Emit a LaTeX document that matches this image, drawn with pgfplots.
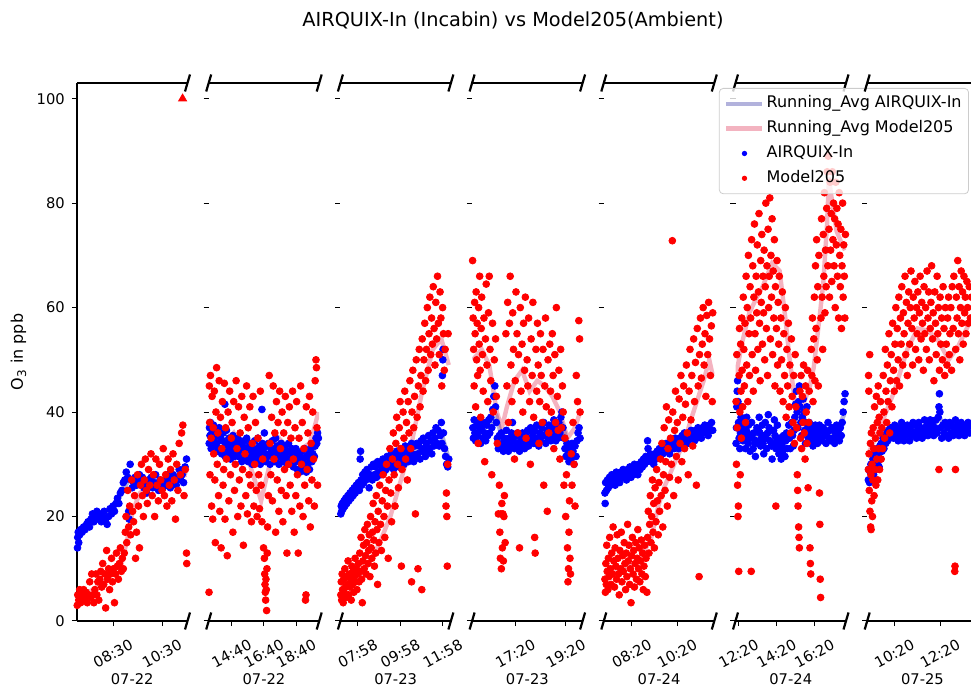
\documentclass[border=0pt]{standalone}
\usepackage{pgfplots}
\pgfplotsset{compat=1.18}
\usepackage{fontspec}
\setmainfont{DejaVu Sans}
\definecolor{avgblue}{RGB}{0,0,139}
\definecolor{avgred}{RGB}{220,20,60}
\newcommand\tickfont{\fontsize{7.35}{8.8}\selectfont}
\newcommand\labfont{\fontsize{8}{9.6}\selectfont}
\pgfplotsset{
  panel/.style={
    scale only axis, width=55.25pt, height=269pt, anchor=south west,
    ymin=0, ymax=103, ytick={0,20,40,60,80,100},
    axis x line*=box, axis y line*=left,
    xtick pos=left, ytick pos=left,
    tick align=outside, major tick length=2.6pt,
    every tick/.style={black, line width=0.5pt},
    axis line style={black, line width=0.6pt, -},
    tick label style={font=\tickfont},
    /pgf/number format/assume math mode=true,
    xticklabel style={yshift=-13.75pt, rotate=28, anchor=center},
    every axis x label/.style={at={(axis description cs:0.5,0)}, anchor=center, yshift=-29pt, font=\tickfont},
    every axis y label/.style={at={(axis description cs:0,0.5)}, xshift=-29.25pt, rotate=90, anchor=center, font=\labfont},
  },
  rbreak/.style={extra description/.append code={
    \draw[black, line width=1.1pt] ([xshift=-1.25pt,yshift=-4.25pt]axis description cs:1,0) -- ([xshift=1.25pt,yshift=4.25pt]axis description cs:1,0);
    \draw[black, line width=1.1pt] ([xshift=-1.25pt,yshift=-4.25pt]axis description cs:1,1) -- ([xshift=1.25pt,yshift=4.25pt]axis description cs:1,1);}},
  lbreak/.style={extra description/.append code={
    \draw[black, line width=1.1pt] ([xshift=-1.25pt,yshift=-4.25pt]axis description cs:0,0) -- ([xshift=1.25pt,yshift=4.25pt]axis description cs:0,0);
    \draw[black, line width=1.1pt] ([xshift=-1.25pt,yshift=-4.25pt]axis description cs:0,1) -- ([xshift=1.25pt,yshift=4.25pt]axis description cs:0,1);}},
  nolefty/.style={yticklabels={}, y axis line style={draw=none}},
  bdots/.style={only marks, mark=*, mark size=1.7pt, color=blue, forget plot},
  rdots/.style={only marks, mark=*, mark size=1.7pt, color=red, forget plot},
  bavg/.style={no marks, line width=2.2pt, draw=avgblue, draw opacity=0.3, forget plot},
  ravg/.style={no marks, line width=2.2pt, draw=avgred, draw opacity=0.32, forget plot},
}
\begin{document}
\begin{tikzpicture}
\useasboundingbox (0,0) rectangle (485.5pt,344.5pt);
\node[font=\fontsize{9.66}{11.6}\selectfont] at (256.5pt,334.5pt) {AIRQUIX-In (Incabin) vs Model205(Ambient)};
% ---------------- Panel 1
\begin{axis}[panel, rbreak, at={(38.5pt,34pt)}, xmin=7.03, xmax=11.54,
  xtick={8.5,10.5}, xticklabels={08:30,10:30}, xlabel={07-22}, ylabel={O\textsubscript{3} in ppb}]
\addplot[bdots] coordinates {(7.05,14)(7.06,16)(7.08,17)(7.1,15)(7.14,16.5)(7.18,17.5)(7.24,17)(7.3,18)(7.36,17.5)(7.42,18.5)(7.48,19)(7.54,18)(7.6,19.5)(7.66,20.5)(7.72,19)(7.78,20)(7.84,21)(7.9,19.5)(7.96,20.5)(8.02,19)(8.08,20)(8.14,21)(8.2,19.5)(8.26,18.5)(8.32,20)(8.38,21.5)(8.44,20.5)(8.5,22)(8.56,21)(8.62,22.5)(8.68,23.5)(8.74,22.5)(8.8,24.5)(8.86,25)(8.92,26.5)(8.98,27)(9.04,28.5)(9.1,27.5)(9.14,21)(9.16,19.5)(9.2,30)(9.24,27)(9.28,25.5)(9.34,26.5)(9.4,27.5)(9.46,26)(9.52,27)(9.58,28)(9.64,26.5)(9.7,27.5)(9.76,25.5)(9.82,26.5)(9.88,24.5)(9.94,27)(10.0,26)(10.06,27.5)(10.12,25.5)(10.18,26.5)(10.24,28)(10.3,26)(10.36,25)(10.42,27)(10.48,26)(10.54,25.5)(10.6,27)(10.66,26)(10.72,28)(10.78,27)(10.84,25.5)(10.9,26.5)(10.96,28)(11.02,27)(11.08,26)(11.14,27.5)(11.2,29)(11.26,27)(11.32,28)(11.38,26.5)(11.44,29.5)(11.5,31)};
\addplot[rdots] coordinates {(7.04,3)(7.06,5)(7.1,4)(7.14,6)(7.18,3.5)(7.22,5)(7.27,4.5)(7.3,6)(7.35,4)(7.4,5.5)(7.45,3.5)(7.5,5)(7.55,7.5)(7.6,4.5)(7.63,9)(7.68,5)(7.72,3.5)(7.76,6)(7.8,9)(7.84,5)(7.88,7.5)(7.92,4)(7.96,8)(8.0,9.5)(8.04,6.5)(8.08,11)(8.12,7)(8.16,9)(8.2,2.5)(8.24,13.5)(8.28,8)(8.32,10)(8.36,6)(8.4,9)(8.44,12)(8.48,7.5)(8.52,10)(8.56,3.5)(8.6,9)(8.64,13)(8.68,10.5)(8.72,8)(8.76,11)(8.8,14)(8.84,9.5)(8.88,12)(8.92,10)(8.96,13)(9.0,17)(9.03,20)(9.06,15)(9.1,25)(9.14,18)(9.18,22)(9.22,16.5)(9.26,27)(9.3,21)(9.34,19)(9.38,24)(9.42,12)(9.46,17)(9.5,28)(9.54,22)(9.58,14)(9.62,26)(9.66,30)(9.7,24)(9.74,20)(9.78,27)(9.82,31)(9.86,25)(9.9,22.5)(9.95,29)(10.0,26)(10.05,32)(10.1,24)(10.15,28)(10.2,20)(10.25,31)(10.3,26)(10.35,23)(10.4,30)(10.45,27)(10.5,25)(10.55,33)(10.6,24)(10.65,28)(10.7,22)(10.75,31)(10.8,26)(10.85,29)(10.9,23)(10.95,32)(11.0,27)(11.05,19.5)(11.1,30)(11.15,25)(11.2,34)(11.25,28)(11.3,36)(11.35,37.5)(11.4,24)(11.45,29)(11.5,13)(11.51,11)};
\addplot[bavg] coordinates {(7.05,16)(7.5,18.5)(8.0,20)(8.5,21)(8.9,25)(9.2,27.5)(9.6,27)(10,26.5)(10.5,26.5)(11,27)(11.5,28.5)};
\addplot[ravg] coordinates {(7.05,4.5)(7.5,5.5)(8.0,7)(8.5,9.5)(8.85,11)(9.1,16)(9.3,21)(9.6,24.5)(10,26)(10.5,26.5)(11,27.5)(11.5,28)};
\addplot[only marks, mark=triangle*, mark size=2.3pt, color=red, forget plot] coordinates {(11.34,100)};
\end{axis}
% ---------------- Panel 2
\begin{axis}[panel, nolefty, lbreak, rbreak, at={(104.35pt,34pt)}, xmin=13.25, xmax=20.1,
  xtick={14.667,16.667,18.667}, xticklabels={14:40,16:40,18:40}, xlabel={07-22}]
\addplot[bdots] coordinates {(13.28,34)(13.3,37)(13.33,35.5)(13.36,38)(13.4,33)(13.45,36)(13.5,34.5)(13.55,37.5)(13.6,35)(13.65,33.5)(13.7,36.5)(13.75,34)(13.8,32.5)(13.85,35.5)(13.9,37)(13.95,33)(14.0,35)(14.05,32)(14.1,34.5)(14.15,36)(14.2,33)(14.25,41.5)(14.27,31.5)(14.3,34)(14.35,36.5)(14.4,33.5)(14.45,32)(14.5,35)(14.55,33)(14.6,31)(14.65,34)(14.7,32.5)(14.75,35.5)(14.8,33)(14.85,31.5)(14.9,34.5)(14.95,32)(15.0,33.5)(15.05,35)(15.1,31.5)(15.15,33)(15.2,34.5)(15.25,32)(15.3,30.5)(15.35,33.5)(15.4,32)(15.45,34.5)(15.5,31)(15.55,33)(15.6,35)(15.65,32)(15.7,30.5)(15.75,33.5)(15.8,31.5)(15.85,34)(15.9,32.5)(15.95,30)(16.0,33)(16.05,31)(16.1,34.5)(16.15,32)(16.2,30.5)(16.25,33)(16.3,35)(16.35,31.5)(16.4,33.5)(16.45,30)(16.5,32.5)(16.55,40.5)(16.58,34)(16.6,31)(16.65,33)(16.7,36)(16.75,32)(16.8,30.5)(16.85,33.5)(16.9,31.5)(16.95,34)(17.0,32)(17.05,30)(17.1,33)(17.15,31.5)(17.2,34.5)(17.25,32)(17.3,30.5)(17.35,33)(17.4,35)(17.45,31)(17.5,33.5)(17.55,32)(17.6,30)(17.65,33)(17.7,31.5)(17.75,34)(17.8,32.5)(17.85,30.5)(17.9,33)(17.95,31)(18.0,33.5)(18.05,32)(18.1,30)(18.15,32.5)(18.2,34)(18.25,31)(18.3,32.5)(18.35,30)(18.4,33)(18.45,31.5)(18.5,29.5)(18.55,32)(18.6,30.5)(18.65,33)(18.7,31)(18.75,29)(18.8,32)(18.85,30.5)(18.9,28.5)(18.95,31.5)(19.0,30)(19.05,32.5)(19.1,29.5)(19.15,31)(19.2,33)(19.25,30)(19.3,28.5)(19.35,31.5)(19.4,30)(19.45,32)(19.5,29)(19.55,31)(19.6,33)(19.65,30.5)(19.7,32)(19.75,34)(19.8,31.5)(19.85,33.5)(19.9,35)(19.95,34)(20.0,36)(20.05,35)};
\addplot[rdots] coordinates {(13.27,5.5)(13.29,45)(13.31,38)(13.33,28)(13.36,47)(13.4,35)(13.43,22)(13.46,43)(13.5,19.5)(13.53,37)(13.56,32)(13.6,44)(13.63,27)(13.66,15)(13.7,40)(13.74,48.5)(13.78,30)(13.82,36)(13.86,24)(13.9,46)(13.94,21)(13.98,39)(14.02,14)(14.06,33)(14.1,42)(14.14,26)(14.18,29)(14.22,45.5)(14.26,19.5)(14.3,37)(14.35,31)(14.4,12.5)(14.45,40)(14.5,23)(14.55,44)(14.6,28)(14.65,35)(14.7,38)(14.75,17)(14.8,42)(14.85,25)(14.9,30)(14.95,46)(15.0,33)(15.05,20)(15.1,41)(15.15,27)(15.2,36)(15.25,22)(15.3,43)(15.35,29)(15.4,14.5)(15.45,39)(15.5,32)(15.55,24)(15.6,45)(15.65,20.5)(15.7,37)(15.75,28)(15.8,41)(15.85,26)(15.9,19)(15.95,34)(16.0,43)(16.05,22)(16.1,30)(16.15,38)(16.2,25)(16.25,20)(16.3,35)(16.35,28)(16.4,21.5)(16.45,44)(16.5,26)(16.55,19)(16.6,31)(16.65,14)(16.7,12)(16.72,9)(16.74,7)(16.76,5.5)(16.78,4)(16.8,8)(16.82,6)(16.84,2)(16.86,10)(16.88,13)(16.9,18)(16.95,24)(17.0,47)(17.05,34)(17.1,28)(17.15,39)(17.2,23)(17.25,45)(17.3,31)(17.35,36)(17.4,17)(17.45,42)(17.5,27)(17.55,38)(17.6,21)(17.65,44)(17.7,33)(17.75,25)(17.8,40)(17.85,19)(17.9,36)(17.95,29)(18.0,43)(18.05,24)(18.1,13)(18.15,38)(18.2,30)(18.25,41)(18.3,26)(18.35,35)(18.4,21)(18.45,44)(18.5,31)(18.55,17)(18.6,37)(18.65,24)(18.7,42)(18.75,28)(18.8,13)(18.85,35)(18.9,22)(18.95,45)(19.0,30)(19.05,38)(19.1,20)(19.15,33)(19.2,26)(19.25,4)(19.28,5)(19.3,41)(19.35,29)(19.4,36)(19.45,23)(19.5,43)(19.55,18)(19.6,34)(19.65,27)(19.7,40)(19.75,31)(19.8,22)(19.85,46)(19.9,50)(19.93,48.5)(19.96,37)(20.0,26)};
\addplot[bavg] coordinates {(13.28,35.5)(13.8,35)(14.4,33.5)(15,33)(15.6,32.5)(16.2,32)(16.8,32)(17.4,32.5)(18,32)(18.6,31)(19.2,30.5)(19.7,32)(20.05,35)};
\addplot[ravg] coordinates {(13.28,37)(13.6,35)(14.2,34)(14.8,36)(15.3,33)(15.8,30)(16.2,26)(16.5,23)(16.8,27)(17.2,32)(17.6,35)(18.2,33)(18.6,30)(19.0,33)(19.5,34)(19.8,37)(20.05,40)};
\end{axis}
% ---------------- Panel 3
\begin{axis}[panel, nolefty, lbreak, rbreak, at={(170.2pt,34pt)}, xmin=7.15, xmax=12.35,
  xtick={7.967,9.967,11.967}, xticklabels={07:58,09:58,11:58}, xlabel={07-23}]
\addplot[bdots] coordinates {(7.17,20.5)(7.19,22)(7.21,21)(7.24,22.5)(7.28,21.5)(7.32,23)(7.36,22)(7.4,23.5)(7.45,22.5)(7.5,24)(7.55,23)(7.6,24.5)(7.65,23.5)(7.7,25)(7.75,24)(7.8,25.5)(7.85,24.5)(7.9,26)(7.95,25)(8.0,26.5)(8.04,25)(8.08,31)(8.1,32.5)(8.12,27)(8.16,26)(8.2,28)(8.25,26.5)(8.3,28.5)(8.35,27)(8.4,29)(8.45,27.5)(8.5,25.5)(8.55,28)(8.6,29.5)(8.65,27)(8.7,30)(8.75,28)(8.8,29.5)(8.85,27.5)(8.9,30.5)(8.95,28.5)(9.0,30)(9.05,28)(9.1,29.5)(9.15,31)(9.2,28.5)(9.25,30.5)(9.3,29)(9.35,31.5)(9.4,29.5)(9.45,31)(9.5,30)(9.55,32)(9.6,30.5)(9.65,29)(9.7,31.5)(9.75,30)(9.8,32.5)(9.85,30.5)(9.9,29.5)(9.95,31.5)(10.0,33)(10.05,30.5)(10.1,32)(10.15,30)(10.2,33.5)(10.25,31)(10.3,32.5)(10.35,30.5)(10.4,33)(10.45,31.5)(10.5,34)(10.55,32)(10.6,30.5)(10.65,33.5)(10.7,31.5)(10.75,34)(10.8,32)(10.85,33.5)(10.9,31)(10.95,34.5)(11.0,32.5)(11.05,35)(11.1,33)(11.15,31.5)(11.2,34)(11.25,32.5)(11.3,35.5)(11.35,33)(11.4,34.5)(11.45,32)(11.5,36)(11.55,33.5)(11.6,35)(11.65,37)(11.7,34)(11.75,36.5)(11.8,33.5)(11.85,35.5)(11.9,38)(11.93,34)(11.95,47)(11.97,50)(11.98,52)(12.0,36)(12.05,33)(12.1,31.5)(12.15,30)(12.2,29.5)(12.25,31)};
\addplot[rdots] coordinates {(7.17,5)(7.19,7.5)(7.21,4)(7.23,9)(7.25,6)(7.28,3.5)(7.3,8)(7.33,5.5)(7.36,10)(7.39,6.5)(7.42,4.5)(7.45,8.5)(7.48,7)(7.51,11.5)(7.54,5)(7.57,9)(7.6,6.5)(7.63,8)(7.66,4)(7.69,10.5)(7.72,7)(7.75,9.5)(7.78,5.5)(7.81,8.5)(7.84,12)(7.87,7.5)(7.9,10)(7.93,6)(7.96,9)(8.0,11)(8.03,7.5)(8.06,13)(8.09,9.5)(8.12,16)(8.15,8)(8.18,3.5)(8.21,11.5)(8.24,14.5)(8.27,10)(8.3,17.5)(8.33,12.5)(8.36,9)(8.39,15)(8.42,18.5)(8.45,11)(8.48,13.5)(8.51,16.5)(8.54,8.5)(8.57,20)(8.6,14)(8.63,12)(8.66,17)(8.69,22.5)(8.72,15.5)(8.75,10.5)(8.78,19)(8.81,13)(8.84,24)(8.87,17.5)(8.9,7)(8.93,21)(8.96,15)(9.0,26)(9.04,18.5)(9.08,13.5)(9.12,23)(9.16,28)(9.2,20)(9.24,16)(9.28,25)(9.32,30)(9.36,22)(9.4,12)(9.44,27)(9.48,33)(9.52,24.5)(9.56,19)(9.6,31)(9.64,36)(9.68,28)(9.72,22)(9.76,34)(9.8,39)(9.84,30)(9.88,25.5)(9.92,37)(9.96,42)(10.0,33)(10.02,10.5)(10.05,29)(10.1,40)(10.14,35)(10.18,44)(10.22,31)(10.26,38)(10.3,27)(10.34,42)(10.38,36)(10.42,46)(10.46,33)(10.5,7.5)(10.52,40)(10.56,48)(10.6,37)(10.64,43)(10.68,20.5)(10.72,50)(10.76,39)(10.8,10)(10.82,45)(10.86,52)(10.9,41)(10.94,47)(10.98,6)(11.0,54)(11.04,44)(11.08,50)(11.12,57)(11.16,46)(11.2,52)(11.24,60)(11.28,48)(11.32,55)(11.36,62)(11.4,51)(11.44,58)(11.48,53)(11.52,64)(11.56,56)(11.6,49)(11.64,61)(11.68,54)(11.72,66)(11.76,57)(11.8,51)(11.84,63)(11.88,58)(11.92,45)(11.96,60)(12.0,55)(12.04,48)(12.08,52)(12.12,22)(12.14,24.5)(12.16,20)(12.18,10.5)(12.2,30)(12.22,55)};
\addplot[bavg] coordinates {(7.17,21.5)(7.6,23.5)(8.0,25.5)(8.5,27.5)(9.0,29)(9.5,30.5)(10,31.5)(10.5,32.5)(11,33)(11.5,34.5)(11.9,36)(12.25,31)};
\addplot[ravg] coordinates {(7.17,6)(7.6,7)(8.0,8.5)(8.5,11)(9.0,15)(9.5,20)(10.0,27)(10.5,34)(11.0,44)(11.5,52)(11.9,54)(12.25,49)};
\end{axis}
% ---------------- Panel 4
\begin{axis}[panel, nolefty, lbreak, rbreak, at={(236.05pt,34pt)}, xmin=15.62, xmax=20.0,
  xtick={15.333,17.333,19.333}, xticklabels={15:20,17:20,19:20}, xlabel={07-23}]
\addplot[bdots] coordinates {(15.65,37)(15.67,35)(15.7,38.5)(15.73,36)(15.76,34.5)(15.8,37.5)(15.84,35.5)(15.88,38)(15.92,36.5)(15.96,34)(16.0,37)(16.04,35)(16.08,38)(16.12,36)(16.16,34.5)(16.2,37.5)(16.24,35.5)(16.28,38.5)(16.32,36)(16.36,39)(16.4,37)(16.44,40.5)(16.48,43)(16.52,45)(16.55,41)(16.58,38)(16.62,35)(16.66,33)(16.7,35.5)(16.74,33.5)(16.78,36)(16.82,34)(16.86,32.5)(16.9,35)(16.94,33)(16.98,36.5)(17.02,34)(17.06,32.5)(17.1,35)(17.14,33.5)(17.18,36)(17.22,38)(17.26,34.5)(17.3,33)(17.34,35.5)(17.38,33.5)(17.42,36)(17.46,34)(17.5,32.5)(17.54,35)(17.58,33.5)(17.62,36)(17.66,34.5)(17.7,33)(17.74,35.5)(17.78,34)(17.82,36.5)(17.86,33.5)(17.9,35)(17.94,37)(17.98,34.5)(18.02,36)(18.06,34)(18.1,36.5)(18.14,35)(18.18,37.5)(18.22,35)(18.26,33.5)(18.3,36)(18.34,34.5)(18.38,37)(18.42,35.5)(18.46,38)(18.5,35.5)(18.54,34)(18.58,36.5)(18.62,35)(18.66,37.5)(18.7,36)(18.74,34.5)(18.78,37)(18.82,35.5)(18.86,38.5)(18.9,36)(18.94,34.5)(18.98,37.5)(19.02,35)(19.06,38)(19.1,36)(19.14,39)(19.18,40)(19.22,37)(19.26,35)(19.3,33)(19.34,31.5)(19.38,34)(19.42,32)(19.46,30.5)(19.5,33)(19.54,31)(19.58,34)(19.62,32.5)(19.66,30)(19.7,33.5)(19.74,31.5)(19.78,34.5)(19.82,36)(19.86,37)(19.9,35)};
\addplot[rdots] coordinates {(15.64,69)(15.66,58)(15.68,52)(15.7,45)(15.72,61)(15.74,55)(15.76,41)(15.78,63)(15.8,50)(15.82,57)(15.84,47)(15.86,34)(15.88,60)(15.9,53)(15.92,66)(15.94,48)(15.96,39)(15.98,56)(16.0,62)(16.03,51)(16.06,44)(16.09,58)(16.12,30.5)(16.15,54)(16.18,64.5)(16.21,49)(16.24,42)(16.27,59)(16.3,66)(16.33,52)(16.36,46)(16.4,28)(16.43,57)(16.46,40)(16.5,50)(16.55,54)(16.58,43)(16.62,34)(16.66,20.5)(16.7,26)(16.72,17)(16.74,12)(16.76,20.5)(16.78,10)(16.8,22.5)(16.82,14)(16.84,20.5)(16.86,11.5)(16.88,20)(16.9,24)(16.93,15)(16.96,55)(17.0,45)(17.03,61)(17.06,38)(17.1,57)(17.13,66)(17.16,49)(17.2,42)(17.23,59)(17.26,52)(17.3,31)(17.33,46)(17.36,63)(17.4,55)(17.43,36)(17.46,51)(17.5,14)(17.53,60)(17.56,44)(17.6,53)(17.63,40)(17.66,57)(17.7,48)(17.73,62)(17.76,35)(17.8,50)(17.83,45)(17.86,58)(17.9,42)(17.93,30)(17.96,54)(18.0,47)(18.03,61)(18.06,39)(18.1,16)(18.12,13)(18.15,52)(18.18,44)(18.21,57)(18.24,49)(18.27,34)(18.3,42)(18.33,55)(18.36,47)(18.4,38)(18.43,52)(18.46,26)(18.5,45)(18.53,58)(18.56,41)(18.6,21)(18.63,50)(18.66,36)(18.7,53)(18.73,44)(18.76,40)(18.8,55)(18.83,47)(18.86,33)(18.9,51)(18.93,38)(18.96,60)(19.0,43)(19.03,36.5)(19.06,48)(19.1,31)(19.13,52)(19.16,37)(19.2,45)(19.23,40)(19.26,26)(19.3,35)(19.33,20)(19.36,28)(19.4,14)(19.42,7.5)(19.44,10)(19.46,17)(19.48,23)(19.5,12)(19.52,9)(19.55,32)(19.58,26)(19.62,38)(19.66,30)(19.7,22)(19.75,47)(19.8,42)(19.85,57.5)(19.88,54)(19.9,40)};
\addplot[bavg] coordinates {(15.65,36.5)(16.0,36.5)(16.4,38)(16.6,39)(16.8,35)(17.2,34.5)(17.6,34.5)(18.0,35.5)(18.5,36)(19.0,36.5)(19.2,37.5)(19.5,32.5)(19.9,35)};
\addplot[ravg] coordinates {(15.65,50)(16.0,52)(16.3,49)(16.6,40)(16.8,37)(17.0,41)(17.3,46)(17.6,48)(17.9,44)(18.2,46)(18.5,45)(18.8,43)(19.1,40)(19.4,35)(19.7,37)(19.9,40)};
\end{axis}
% ---------------- Panel 5
\begin{axis}[panel, nolefty, lbreak, rbreak, at={(301.9pt,34pt)}, xmin=7.1, xmax=11.97,
  xtick={8.333,10.333}, xticklabels={08:20,10:20}, xlabel={07-24}]
\addplot[bdots] coordinates {(7.15,24.5)(7.16,22.5)(7.18,26.5)(7.22,25)(7.26,27)(7.3,25.5)(7.35,27.5)(7.4,26)(7.45,28)(7.5,26.5)(7.55,27.5)(7.6,26)(7.65,28.5)(7.7,27)(7.75,28)(7.8,26.5)(7.85,28.5)(7.9,27.5)(7.95,29)(8.0,27.5)(8.05,28.5)(8.1,27)(8.15,29)(8.2,28)(8.25,29.5)(8.3,27.5)(8.35,29)(8.4,28)(8.45,30)(8.5,28.5)(8.55,29.5)(8.6,28)(8.65,30)(8.7,29)(8.75,30.5)(8.8,29.5)(8.85,31)(8.9,30)(8.95,31.5)(9.0,30.5)(9.03,34.5)(9.05,33)(9.1,31)(9.15,32)(9.2,30.5)(9.25,31.5)(9.3,30)(9.35,32)(9.4,31)(9.45,32.5)(9.5,31.5)(9.55,33)(9.6,31.5)(9.65,33)(9.7,32)(9.75,33.5)(9.8,32.5)(9.85,34)(9.9,32.5)(9.95,33.5)(10.0,32)(10.05,34)(10.1,33)(10.15,34.5)(10.2,33)(10.25,35)(10.3,33.5)(10.35,34.5)(10.4,33)(10.45,35)(10.5,34)(10.55,35.5)(10.6,34)(10.65,36)(10.7,34.5)(10.75,35.5)(10.8,34)(10.85,36)(10.9,35)(10.95,36.5)(11.0,35)(11.05,36)(11.1,34.5)(11.15,36.5)(11.2,35)(11.25,37)(11.3,35.5)(11.35,36.5)(11.4,35)(11.45,37)(11.5,36)(11.55,37.5)(11.6,36)(11.65,37)(11.7,35.5)(11.75,37.5)(11.8,36.5)(11.85,38)(11.9,36.5)};
\addplot[rdots] coordinates {(7.15,8)(7.17,5.5)(7.19,11)(7.21,7)(7.23,14.5)(7.25,9.5)(7.28,6)(7.3,12)(7.33,8.5)(7.36,16)(7.39,10)(7.42,7)(7.45,13)(7.48,9)(7.51,18)(7.54,11.5)(7.57,6.5)(7.6,14)(7.63,10.5)(7.66,8)(7.69,16.5)(7.72,12)(7.75,9)(7.78,5)(7.81,13.5)(7.84,10)(7.87,17)(7.9,7.5)(7.93,12.5)(7.96,9.5)(8.0,15)(8.03,11)(8.06,6)(8.09,13)(8.12,8.5)(8.15,18.5)(8.18,11.5)(8.21,14.5)(8.24,7)(8.27,10)(8.3,3.5)(8.33,12.5)(8.36,16)(8.39,9)(8.42,13.5)(8.45,6.5)(8.48,11)(8.51,15)(8.54,8)(8.57,12)(8.6,17.5)(8.63,10)(8.66,14)(8.69,7.5)(8.72,11.5)(8.75,15.5)(8.78,9)(8.81,13)(8.84,6)(8.87,10.5)(8.9,14.5)(8.93,8.5)(8.96,12)(9.0,5.5)(9.03,16)(9.06,21)(9.09,13)(9.12,18.5)(9.15,24)(9.18,15)(9.21,20)(9.24,27)(9.27,17)(9.3,22.5)(9.33,14)(9.36,25.5)(9.4,19)(9.43,29)(9.46,23)(9.5,16.5)(9.53,26.5)(9.56,21)(9.6,31)(9.63,24)(9.66,34)(9.7,18)(9.73,28)(9.76,37)(9.8,25)(9.83,30.5)(9.86,41)(9.9,22)(9.93,33)(9.96,38.5)(10.0,27.5)(10.04,35)(10.08,30)(10.12,72.8)(10.14,40)(10.18,24)(10.22,36.5)(10.26,44)(10.3,31.5)(10.34,38)(10.38,27)(10.42,42.5)(10.46,34)(10.5,47)(10.54,30.5)(10.58,39)(10.62,45)(10.66,33)(10.7,41.5)(10.74,49)(10.78,36)(10.82,28)(10.86,44)(10.9,52)(10.94,38.5)(10.98,47)(11.02,33.5)(11.06,54)(11.1,42)(11.14,49.5)(11.18,26)(11.22,56)(11.26,45)(11.3,8.5)(11.32,51)(11.36,58)(11.4,46.5)(11.44,53)(11.48,60)(11.52,49)(11.56,55)(11.6,43)(11.64,58.5)(11.68,51)(11.72,61)(11.76,54)(11.8,47)(11.84,56.5)(11.88,42)(11.9,59)};
\addplot[bavg] coordinates {(7.15,25)(7.6,26.5)(8.0,27.5)(8.5,29)(9.0,30.5)(9.5,32)(10.0,33)(10.5,34.5)(11.0,35.5)(11.5,36.5)(11.9,37)};
\addplot[ravg] coordinates {(7.15,9)(7.8,10)(8.5,11)(8.9,13.5)(9.2,16)(9.5,22)(9.8,26)(10.1,29)(10.4,32)(10.7,35)(10.9,38)(11.2,42)(11.5,46)(11.75,50)(11.9,47)};
\end{axis}
% ---------------- Panel 6
\begin{axis}[panel, nolefty, lbreak, rbreak, at={(367.75pt,34pt)}, xmin=12.17, xmax=18.0,
  xtick={12.333,14.333,16.333}, xticklabels={12:20,14:20,16:20}, xlabel={07-24}]
\addplot[bdots] coordinates {(12.2,34)(12.22,37)(12.24,41)(12.26,44)(12.28,46)(12.3,42)(12.33,38)(12.36,35)(12.4,33)(12.43,36)(12.46,39)(12.5,41)(12.53,37)(12.56,34.5)(12.6,36)(12.63,38.5)(12.66,35)(12.7,33)(12.73,36.5)(12.76,39)(12.8,36)(12.83,34)(12.86,37.5)(12.9,35)(12.94,32.5)(12.98,35.5)(13.02,38)(13.06,35)(13.1,33)(13.14,36)(13.18,34)(13.22,31.5)(13.26,34.5)(13.3,37)(13.34,34)(13.38,36.5)(13.42,39)(13.46,36)(13.5,33.5)(13.54,35)(13.58,37.5)(13.62,34)(13.66,32)(13.7,35.5)(13.74,38)(13.78,35)(13.82,33)(13.86,36)(13.9,39.5)(13.94,37)(13.98,34.5)(14.02,36.5)(14.06,33.5)(14.1,31)(14.14,34)(14.18,36.5)(14.22,38.5)(14.26,35.5)(14.3,33)(14.34,35)(14.38,37.5)(14.42,34)(14.46,32)(14.5,35)(14.54,33)(14.58,31)(14.62,34)(14.66,32.5)(14.7,35.5)(14.74,33)(14.78,31.5)(14.82,34.5)(14.86,36)(14.9,33)(14.94,35)(14.98,37.5)(15.02,35)(15.06,33)(15.1,36)(15.14,38)(15.18,35.5)(15.22,33.5)(15.26,36.5)(15.3,39)(15.34,41.5)(15.38,44)(15.42,40)(15.46,37)(15.5,42)(15.54,45)(15.58,41)(15.62,38)(15.66,35.5)(15.7,39)(15.74,42.5)(15.78,40)(15.82,36.5)(15.86,34)(15.9,38)(15.94,41)(15.98,37)(16.02,35)(16.06,38)(16.1,36)(16.14,34)(16.18,37)(16.22,35.5)(16.26,33.5)(16.3,36)(16.34,34.5)(16.38,37.5)(16.42,35)(16.46,36.5)(16.5,34)(16.55,36)(16.6,37.5)(16.65,35)(16.7,36.5)(16.75,34.5)(16.8,37)(16.85,35.5)(16.9,36.5)(16.95,34)(17.0,36)(17.05,38)(17.1,35)(17.15,36.5)(17.2,34.5)(17.25,37)(17.3,35)(17.35,36.5)(17.4,34)(17.45,36)(17.5,37.5)(17.55,35)(17.6,36.5)(17.65,34.5)(17.7,37)(17.75,35.5)(17.8,38)(17.85,40)(17.9,42)(17.95,43.5)};
\addplot[rdots] coordinates {(12.2,42)(12.22,30)(12.24,51)(12.26,37)(12.28,26)(12.3,20)(12.32,22)(12.34,9.5)(12.36,47)(12.38,56)(12.4,40)(12.42,28)(12.44,53)(12.46,44)(12.48,35)(12.5,58)(12.52,48)(12.55,41)(12.58,62)(12.61,52)(12.64,45)(12.67,57)(12.7,38)(12.73,66)(12.76,49)(12.79,60)(12.82,42)(12.85,70)(12.88,55)(12.91,47)(12.94,64)(12.97,58)(13.0,9.5)(13.02,73)(13.05,51)(13.08,68)(13.11,44)(13.14,62)(13.17,76)(13.2,55)(13.23,48)(13.26,66)(13.29,59)(13.32,72)(13.35,52)(13.38,63)(13.41,78)(13.44,57)(13.47,46)(13.5,69)(13.53,61)(13.56,74)(13.59,53)(13.62,66)(13.65,59)(13.68,71)(13.71,50)(13.74,64)(13.77,80)(13.8,56)(13.83,68)(13.86,47)(13.89,75)(13.92,60)(13.95,66)(13.98,81)(14.01,54)(14.04,70)(14.07,62)(14.1,77)(14.13,51)(14.16,67)(14.19,58)(14.22,73)(14.25,45)(14.28,64)(14.3,22)(14.33,56)(14.36,69)(14.39,49)(14.42,61)(14.45,53)(14.48,66)(14.52,44)(14.56,58)(14.6,50)(14.64,63)(14.68,42)(14.72,55)(14.76,47)(14.8,60)(14.84,39)(14.88,52)(14.92,45)(14.96,57)(15.0,41)(15.04,49)(15.08,36)(15.12,54)(15.16,43)(15.2,38)(15.24,47)(15.28,34)(15.32,51)(15.36,41)(15.4,37)(15.43,28)(15.45,25)(15.47,22)(15.5,18)(15.52,16)(15.54,14)(15.57,44)(15.6,35)(15.63,47)(15.66,33)(15.7,43)(15.73,38)(15.76,49)(15.8,36)(15.84,31)(15.87,45)(15.9,40)(15.94,34)(15.97,48)(16.0,25.5)(16.03,38)(16.06,44)(16.1,14)(16.12,11)(16.14,9)(16.17,52)(16.2,47)(16.23,58)(16.26,42)(16.3,54)(16.33,62)(16.36,46)(16.39,68)(16.42,56)(16.45,73)(16.48,50)(16.51,64)(16.54,45)(16.57,70)(16.6,24.5)(16.62,18.5)(16.64,8)(16.66,4.5)(16.68,58)(16.71,77)(16.74,62)(16.77,52)(16.8,74)(16.83,66)(16.86,82)(16.89,59)(16.92,71)(16.95,64)(16.98,79)(17.01,86)(17.04,68)(17.07,89)(17.1,75)(17.13,62)(17.16,84)(17.19,71)(17.22,78)(17.25,65)(17.28,86)(17.31,73)(17.34,80)(17.37,68)(17.4,77)(17.43,60)(17.46,84)(17.49,72)(17.52,79)(17.55,66)(17.58,76)(17.61,58)(17.64,82)(17.67,70)(17.7,64)(17.73,75)(17.76,56)(17.79,68)(17.82,80)(17.85,62)(17.88,72)(17.91,66)(17.94,58)(17.97,74)};
\addplot[bavg] coordinates {(12.2,38)(12.5,38)(12.9,36)(13.4,35.5)(14,35.5)(14.5,34)(15,35)(15.5,40)(15.8,38.5)(16.2,36)(16.6,36)(17,36)(17.5,36)(17.95,40)};
\addplot[ravg] coordinates {(12.2,47)(12.5,53)(12.9,59)(13.3,62)(13.6,64)(14.1,68.5)(14.5,67)(14.8,58)(15.0,51)(15.3,42)(15.6,40)(15.8,42)(16.1,45)(16.3,48.6)(16.6,58)(16.8,64.6)(17.0,76)(17.1,85)(17.2,82)(17.5,74.7)(17.8,72)(17.95,71)};
\end{axis}
% ---------------- Panel 7
\begin{axis}[panel, nolefty, lbreak, at={(433.6pt,34pt)}, xmin=9.15, xmax=13.97,
  xtick={10.333,12.333}, xticklabels={10:20,12:20}, xlabel={07-25},
  legend style={at={(0.921,0.9907)}, anchor=north east, font=\labfont,
    draw=black!20, fill=white, fill opacity=0.8, draw opacity=1, text opacity=1,
    rounded corners=2pt, inner xsep=2.5pt, inner ysep=2.8pt, row sep=2.5pt,
    nodes={inner sep=1pt, text height=5.9pt, text depth=2pt}},
  legend cell align=left]
\addlegendimage{legend image code/.code={\draw[avgblue, draw opacity=0.3, line width=2.2pt] (0pt,0pt) -- (18pt,0pt);}}
\addlegendentry{Running\_Avg AIRQUIX-In}
\addlegendimage{legend image code/.code={\draw[avgred, draw opacity=0.32, line width=2.2pt] (0pt,0pt) -- (18pt,0pt);}}
\addlegendentry{Running\_Avg Model205}
\addlegendimage{legend image code/.code={\fill[blue, fill opacity=1] (9pt,0pt) circle (1.1pt);}}
\addlegendentry{AIRQUIX-In}
\addlegendimage{legend image code/.code={\fill[red, fill opacity=1] (9pt,0pt) circle (1.1pt);}}
\addlegendentry{Model205}
\addplot[bdots] coordinates {(9.2,27)(9.22,29)(9.25,26.5)(9.28,28.5)(9.31,30)(9.34,27.5)(9.37,29.5)(9.4,31)(9.43,28)(9.46,30.5)(9.49,32)(9.52,29)(9.55,31.5)(9.58,33)(9.61,30)(9.64,32)(9.67,29.5)(9.7,33.5)(9.73,31)(9.76,34)(9.8,32.5)(9.84,35)(9.88,33)(9.92,35.5)(9.96,34)(10.0,36)(10.04,34.5)(10.08,36.5)(10.12,35)(10.16,37)(10.2,35.5)(10.25,36.5)(10.3,35)(10.35,37.5)(10.4,35.5)(10.45,36.5)(10.5,34.5)(10.55,37)(10.6,35.5)(10.65,38)(10.7,36)(10.75,34.5)(10.8,37)(10.85,35.5)(10.9,37.5)(10.95,36)(11.0,34.5)(11.05,37)(11.1,35.5)(11.15,38)(11.2,36)(11.25,37.5)(11.3,35)(11.35,36.5)(11.4,38)(11.45,35.5)(11.5,37)(11.55,35)(11.6,36.5)(11.65,38.5)(11.7,36)(11.75,37.5)(11.8,35.5)(11.85,37)(11.9,38.5)(11.95,36)(12.0,37.5)(12.05,35.5)(12.1,37)(12.15,38.5)(12.2,36)(12.25,39)(12.28,41)(12.3,43.5)(12.32,40)(12.35,37)(12.4,35)(12.45,37.5)(12.5,36)(12.55,38)(12.6,35.5)(12.65,37)(12.7,35)(12.75,38)(12.8,36)(12.85,37.5)(12.9,35.5)(12.95,37)(13.0,38.5)(13.05,36)(13.1,37.5)(13.15,35.5)(13.2,37)(13.25,38)(13.3,36)(13.35,37.5)(13.4,35.5)(13.45,37)(13.5,36.5)(13.55,38)(13.6,36)(13.65,37.5)(13.7,36)(13.8,37)(13.9,36.5)};
\addplot[rdots] coordinates {(9.2,29)(9.21,47)(9.22,44)(9.23,32)(9.24,25)(9.26,51)(9.27,21)(9.29,34)(9.3,18)(9.31,28)(9.32,17.5)(9.33,36)(9.35,23)(9.36,30)(9.38,20)(9.4,27)(9.41,37)(9.43,33)(9.45,24)(9.47,41)(9.49,29)(9.51,35)(9.53,26)(9.55,43)(9.57,31)(9.59,38)(9.61,27)(9.63,45)(9.65,33)(9.67,39)(9.69,29)(9.71,36)(9.73,42)(9.76,31)(9.79,37)(9.82,33)(9.85,47)(9.88,40)(9.91,35)(9.94,52)(9.97,44)(10.0,38)(10.03,49)(10.06,42)(10.1,55)(10.13,36)(10.16,46)(10.2,51)(10.23,41)(10.26,57)(10.3,48)(10.33,44)(10.36,53)(10.4,60)(10.43,46)(10.46,56)(10.5,50)(10.53,62)(10.56,45)(10.6,58)(10.63,53)(10.66,64)(10.7,49)(10.73,59)(10.76,55)(10.8,66)(10.83,51)(10.86,61)(10.9,47)(10.93,57)(10.96,63)(11.0,53)(11.03,60)(11.06,67)(11.1,56)(11.13,49)(11.16,62)(11.2,58)(11.23,65)(11.26,52)(11.3,60)(11.33,55)(11.36,63)(11.4,50)(11.43,59)(11.46,66)(11.5,54)(11.53,61)(11.56,57)(11.6,48)(11.63,64)(11.66,55)(11.7,60)(11.73,52)(11.76,67)(11.8,58)(11.83,63)(11.86,50)(11.9,56)(11.93,61)(11.96,68)(12.0,54)(12.03,59)(12.06,46)(12.1,63)(12.13,57)(12.16,51)(12.2,66)(12.23,55)(12.26,60)(12.28,29)(12.3,48)(12.33,62)(12.36,53)(12.4,58)(12.43,50)(12.46,64)(12.5,56)(12.53,47)(12.56,60)(12.6,53)(12.63,49)(12.66,58)(12.7,62)(12.73,51)(12.76,55)(12.8,60)(12.83,48)(12.86,64)(12.9,56)(12.93,66)(12.97,9.5)(12.98,10.5)(13.0,29)(13.01,52)(13.04,62)(13.07,58)(13.1,69)(13.13,55)(13.16,64)(13.19,50)(13.22,60)(13.25,67)(13.28,57)(13.31,63)(13.34,53)(13.37,66)(13.4,59)(13.43,62)(13.46,55)(13.5,65)(13.53,60)(13.56,57)(13.6,64)(13.65,58)(13.7,62)(13.8,60)(13.9,63)};
\addplot[bavg] coordinates {(9.2,28)(9.6,31)(10.0,34.5)(10.5,36)(11,36.5)(11.5,36.5)(12,37)(12.3,39)(12.6,36.5)(13,37)(13.5,37)(13.9,37)};
\addplot[ravg] coordinates {(9.2,32)(9.7,37)(10.3,43.6)(10.9,52)(11.35,56)(11.8,55.6)(12.25,53.7)(12.7,50)(13.1,52.4)(13.6,57)(13.9,59)};
\end{axis}
\end{tikzpicture}
\end{document}
